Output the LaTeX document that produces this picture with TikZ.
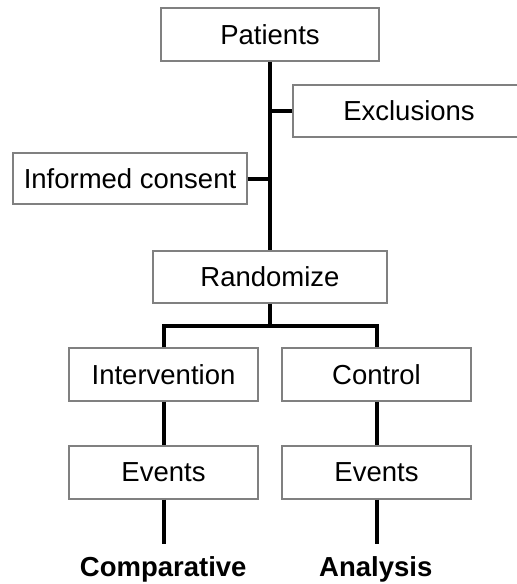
\documentclass[tikz,border=0pt]{standalone}
\usepackage{fontspec}
\setmainfont{Liberation Sans}
\begin{document}
\begin{tikzpicture}[x=1pt,y=-1pt,
  boxst/.style={draw=black!50,line width=1.1pt,rectangle,inner sep=0pt,font=\fontsize{27.5}{33}\selectfont},
  link/.style={line width=4pt,draw=black},
  lab/.style={inner sep=0pt,font=\fontsize{27.5}{33}\selectfont\bfseries}]
\useasboundingbox (0,0) rectangle (517,584);
\node[boxst,minimum width=218pt,minimum height=53pt] (pat) at (270,34.5) {Patients};
\node[boxst,minimum width=232pt,minimum height=52pt] (exc) at (409,111) {Exclusions};
\node[boxst,minimum width=234pt,minimum height=51pt] (inf) at (130,178.5) {Informed consent};
\node[boxst,minimum width=234pt,minimum height=52pt] (ran) at (270,277) {Randomize};
\node[boxst,minimum width=189pt,minimum height=53pt] (int) at (163.5,374.5) {Intervention};
\node[boxst,minimum width=189pt,minimum height=53pt] (ctl) at (376.5,374.5) {Control};
\node[boxst,minimum width=189pt,minimum height=53pt] (ev1) at (163.5,472.5) {Events};
\node[boxst,minimum width=189pt,minimum height=53pt] (ev2) at (376.5,472.5) {Events};
\node[lab] (cmp) at (163.2,569) {Comparative};
\node[lab] (ana) at (375.8,569) {Analysis};
\coordinate (e1) at (163.5,544);
\coordinate (e2) at (376.5,544);
\coordinate (br) at (270,326);
\draw[link] (pat.south) -- (ran.north);
\draw[link] (exc.west) -- (exc.west -| pat.south);
\draw[link] (inf.east) -- (inf.east -| pat.south);
\draw[link] (ran.south) -- (br);
\draw[link] (int.north) |- (br) -| (ctl.north);
\draw[link] (int.south) -- (ev1.north);
\draw[link] (ctl.south) -- (ev2.north);
\draw[link] (ev1.south) -- (e1);
\draw[link] (ev2.south) -- (e2);
\end{tikzpicture}
\end{document}
